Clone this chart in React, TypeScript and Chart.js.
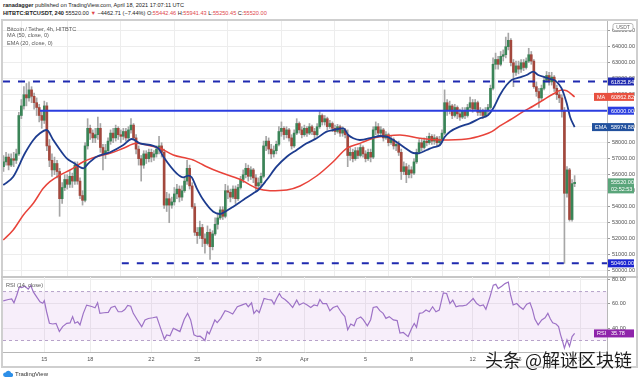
import React, { useEffect, useRef } from "react";
import { Chart, registerables } from "chart.js";

Chart.register(...registerables);

// ---------------- data (4h bars, index 0 = 15 Mar 2021 00:00 UTC) ----------------
const firstBarIndex = -16;
const firstOpen = 56500;

const closes = [
  56800, 57100, 56600, 57000,
  56900, 57300, 59700, 60300, 61000, 60800,
  61300, 60900, 60500, 60200, 59700, 59400,
  60300, 57800, 56900, 56300, 56700, 56200,
  54500, 55200, 55700, 55400, 55900, 55600,
  56600, 55600, 54700, 54400, 57800, 58900,
  58600, 58300, 58500, 58900, 57700, 57300,
  57500, 58100, 58600, 58300, 58900, 58500,
  58400, 58700, 58300, 58800, 59100, 58300,
  57600, 57000, 56600, 57300, 57000, 57400,
  57100, 57300, 57600, 57800, 57400, 54100,
  54500, 54100, 54300, 54800, 55100, 54600,
  55000, 55600, 56400, 55300, 54000, 52400,
  52200, 52700, 52000, 51700, 52400, 51500,
  52300, 52900, 53300, 53800, 53400, 55000,
  54900, 54600, 55100, 54500, 55200, 55700,
  56000, 56400, 55900, 56300, 55800, 55300,
  55500, 55900, 57800, 58100, 57600, 57300,
  57500, 57900, 58700, 58900, 58500, 58800,
  58300, 57800, 58600, 59200, 58800, 58500,
  58900, 58600, 59000, 58700, 58500, 59000,
  59700, 59300, 59500, 59000, 59200, 58900,
  58700, 59000, 58600, 58800, 58500, 57200,
  57400, 57000, 57500, 57200, 57700, 57300,
  57000, 57400, 57100, 58800, 59000, 58600,
  58800, 58300, 58500, 58000, 58200, 57800,
  57900, 57400, 56200, 56500, 56000, 56300,
  56100, 56800, 57400, 58000, 57700, 58100,
  58000, 58400, 58100, 58300, 58000, 58200,
  58600, 60500, 60000, 60300, 59700, 60200,
  59800, 59600, 60000, 59700, 60200, 60500,
  60100, 60500, 59900, 60000, 59700, 60000,
  60200, 61400, 62900, 63200, 62900, 63400,
  63500, 64000, 64400, 63000, 62400, 62800,
  62600, 63000, 62700, 63100, 63500, 63100,
  61500, 61200, 60800, 61400, 61900, 62200,
  61800, 62100, 61400, 61000, 60800, 59983,
  54840, 56300, 53200, 55442.46, 55520,
];

const highs = [
  57200, 57400, 57300, 57300,
  57400, 57600, 59900, 60700, 61500, 61700,
  61800, 61500, 61100, 60800, 60400, 60000,
  60600, 60500, 58200, 57300, 57100, 56900,
  56400, 55500, 56000, 56000, 56200, 56100,
  56800, 56800, 55800, 55000, 58000, 59500,
  59100, 58800, 58900, 59600, 59200, 57900,
  57900, 58300, 58800, 58900, 59100, 59000,
  58800, 58900, 58900, 59000, 59500, 59200,
  58500, 57800, 57200, 57500, 57500, 57600,
  57600, 57500, 57800, 58400, 58000, 57600,
  54900, 54800, 54600, 55200, 55400, 55300,
  55300, 55800, 56900, 56600, 55500, 54200,
  52700, 53100, 52900, 52300, 52800, 52600,
  52500, 53300, 53600, 54000, 54000, 55400,
  55300, 55100, 55300, 55300, 55400, 55900,
  56300, 56700, 56600, 56500, 56400, 56000,
  55800, 56100, 58100, 58400, 58300, 57900,
  57800, 58100, 59000, 59300, 59000, 59000,
  58900, 58500, 58800, 59500, 59300, 59000,
  59100, 59000, 59200, 59100, 58900, 59200,
  59950, 59800, 59700, 59600, 59400, 59300,
  59100, 59150, 59100, 59000, 58900, 58800,
  57700, 57600, 57700, 57700, 57900, 57800,
  57500, 57600, 57600, 59000, 59300, 59200,
  59000, 58900, 58700, 58600, 58400, 58300,
  58100, 58100, 57600, 56800, 56700, 56600,
  56500, 57000, 57600, 58200, 58200, 58300,
  58400, 58600, 58500, 58500, 58400, 58400,
  58800, 61300, 60700, 60600, 60400, 60400,
  60300, 60100, 60200, 60200, 60400, 60850,
  60700, 60700, 60600, 60200, 60100, 60200,
  60400, 61600, 63300, 63600, 63400, 63700,
  63800, 64600, 64850, 64500, 63200, 63100,
  63100, 63200, 63200, 63300, 63900, 63700,
  63200, 61800, 61400, 61600, 62100, 62450,
  62400, 62400, 62200, 61600, 61200, 61000,
  60200, 56500, 56400, 55700, 55941.43,
];

const lows = [
  56200, 56600, 56300, 56500,
  56500, 56700, 57200, 59500, 60100, 60300,
  60600, 60500, 60100, 59700, 59300, 58900,
  59200, 57500, 56500, 55900, 56000, 55800,
  53400, 54200, 55000, 55100, 55200, 55200,
  55400, 55400, 54500, 54100, 54300, 57600,
  58200, 58000, 58000, 58200, 57400, 56300,
  57000, 57300, 57900, 58000, 58100, 58200,
  58000, 58200, 58100, 58200, 58600, 58200,
  57300, 56600, 55600, 56400, 56700, 56800,
  56800, 56900, 57100, 57300, 57100, 53900,
  53700, 53000, 53900, 54100, 54500, 54300,
  54400, 54900, 55400, 55100, 53900, 52200,
  51700, 52000, 51500, 51100, 51600, 50700,
  51300, 52200, 52600, 53200, 53200, 53300,
  54500, 54300, 54500, 54200, 54400, 55100,
  55500, 55800, 55600, 55700, 55500, 55000,
  55100, 55300, 55800, 57500, 57300, 57000,
  57100, 57300, 57800, 58400, 58200, 58300,
  58100, 57600, 57700, 58500, 58600, 58300,
  58400, 58400, 58500, 58500, 58200, 58400,
  58900, 59100, 59100, 58800, 58900, 58700,
  58500, 58600, 58400, 58400, 58300, 56500,
  56900, 56800, 56900, 57000, 57100, 57100,
  56800, 56900, 56800, 57000, 58500, 58400,
  58400, 58100, 58200, 57800, 57900, 57600,
  57500, 57200, 55700, 56000, 55500, 55800,
  55800, 56000, 56700, 57300, 57500, 57600,
  57800, 57900, 57900, 57900, 57800, 57800,
  58000, 58500, 59700, 59800, 59500, 59600,
  59500, 59400, 59500, 59500, 59600, 60000,
  59900, 60000, 59700, 59700, 59500, 59600,
  59800, 60100, 61300, 62600, 62600, 62800,
  63100, 63300, 63800, 62800, 61500, 62200,
  62300, 62400, 62500, 62600, 63000, 62900,
  61400, 60900, 60200, 60700, 61300, 61800,
  61600, 61600, 61200, 60700, 60500, 59600,
  50460, 54600, 53100, 53100, 55250.45,
];

// MA(50): [bar index, price]
const maPoints: [number, number][] = [
  [-16.1, 51919], [-12.2, 52544], [-8.2, 53481], [-4.3, 54212], [-0.4, 55150], [2.2, 55563],
  [6.2, 55981], [10.1, 56294], [15.3, 56812], [20.5, 57125], [25.8, 57337], [31, 57650],
  [36.2, 57960], [40.2, 57856], [45.4, 57650], [50.6, 57231], [55.8, 57025], [58.4, 56919],
  [61.1, 56712], [63.7, 56500], [68.9, 56150], [76.7, 55712], [83.3, 55150], [88.5, 55000],
  [95.1, 55044], [100.3, 55294], [106.8, 55919], [113.3, 56812], [118.6, 57650], [123.8, 57960],
  [129, 58275], [134.3, 58419], [139.5, 58481], [147.3, 58275], [155.2, 58169], [165.6, 58231],
  [172.2, 58481], [175.5, 58690], [178.7, 59044], [182.6, 59419], [187.8, 59937], [191.8, 60294],
  [195.7, 60669], [199.6, 61044], [202.9, 61294], [204.9, 61250], [208, 60862.82],
];

// EMA(20): [bar index, price]
const emaPoints: [number, number][] = [
  [-16.1, 55356], [-12.2, 55875], [-7.6, 57337], [-4.3, 58169], [-1.7, 58587], [0.9, 58794],
  [3.5, 58169], [6.2, 57544], [8.8, 57025], [11.4, 56750], [15.3, 56400], [17.3, 56712],
  [20.5, 57125], [25.8, 57400], [31, 57856], [34.3, 58231], [37.5, 57960], [44.7, 57650],
  [46.7, 57125], [51.9, 56087], [54.5, 55837], [56.5, 55940], [57.8, 55837], [59.8, 55150],
  [62.4, 54419], [66.3, 53688], [68.9, 53544], [70.9, 53688], [74.1, 54000], [78, 54419],
  [82, 54838], [83.9, 55044], [87.2, 55669], [91.1, 56500], [95.1, 57125], [99, 57544],
  [102.9, 57960], [106.8, 58275], [110.7, 58690], [113.3, 58794], [117.3, 58900], [119.2, 58481],
  [121.2, 58275], [123.8, 58169], [129, 58337], [131.6, 58419], [134.3, 58375], [136.9, 58169],
  [139.5, 57900], [142.1, 57600], [144.7, 57356], [146.7, 57337], [150, 57544], [152.5, 57712],
  [155.2, 57856], [157.1, 58375], [159.1, 58690], [163, 59000], [166.9, 59212], [170.9, 59525],
  [174.1, 59731], [176.1, 60150], [178.7, 60981], [181.3, 61606], [183.3, 61919], [186.5, 62087],
  [189.2, 62231], [191.8, 62437], [193.7, 62231], [196.4, 62087], [199, 61962], [200.9, 61812],
  [202.9, 61400], [204.9, 60462], [206.2, 59625], [208, 58974.88],
];

// RSI(14): [bar index, value]
const rsiPoints: [number, number][] = [
  [-16.1, 62.4], [-14.1, 63.5], [-12.8, 64], [-11.9, 60.8], [-10.8, 67], [-9.8, 73.7], [-8.9, 73.3],
  [-7.6, 74.3], [-6.3, 72], [-5.3, 75], [-4.3, 69.7], [-3, 65.6], [-1.7, 61.6], [-0.6, 60.4],
  [0, 62.5], [0.9, 53.5], [2, 44.1], [3.3, 43.5], [4.6, 44], [5.9, 37.3], [7.2, 41.4], [8.8, 44],
  [10.1, 44.4], [11.1, 49.5], [12, 44.1], [13.1, 45.3], [14, 42.8], [15.3, 52.2], [16.6, 58.9],
  [18.6, 57.8], [19.9, 56.8], [20.9, 60.9], [21.8, 52.2], [23.4, 52.7], [25.1, 53], [26.2, 57],
  [27.7, 58], [29, 53.5], [30.4, 53.5], [31.6, 55.3], [32.7, 58.6], [33.9, 58], [34.9, 52.2],
  [36.5, 46.8], [38.2, 41.3], [39.5, 46.8], [40.8, 48], [42.5, 48.6], [44.1, 49.3], [45.4, 41.3],
  [47.1, 31.1], [48, 34.6], [49.3, 33.8], [50.6, 40], [51.9, 38.7], [53.2, 37.3], [54.9, 47.3],
  [56.2, 52.2], [57.4, 46.8], [58.7, 34.6], [60, 33.3], [61.1, 33.5], [62.1, 31.8], [63, 29.9],
  [63.9, 37.3], [64.7, 35.4], [65.6, 40], [66.9, 46.8], [67.8, 44.6], [69.2, 48.1], [70.9, 54.4],
  [72.2, 53.5], [73.9, 51.6], [75.7, 57.6], [77.4, 58.9], [79.1, 60.2], [80, 57.6], [81.3, 60.8],
  [82.2, 52.2], [83.3, 54.9], [84.3, 52.7], [86.2, 64.3], [87.8, 63.5], [89.2, 63], [90.1, 59.7],
  [91.1, 64.3], [92.2, 68.4], [93.1, 65.2], [94.4, 63.5], [95.7, 61.1], [97.4, 57], [99, 63],
  [100, 59], [101.6, 60.8], [103.1, 59], [104.5, 57], [105.8, 59], [107.1, 58.3], [108.1, 63.5],
  [109.2, 60.2], [110.7, 60.2], [112, 54.4], [113.3, 57], [114.9, 58.3], [116.6, 52.7], [117.9, 49.5],
  [119, 38.7], [120.2, 43.5], [121.5, 42], [122.5, 47.5], [124.1, 49.2], [125.1, 47], [126.7, 42],
  [128, 47], [129, 57], [130.4, 57.6], [131.6, 54.4], [132.9, 52.2], [134, 48.1], [135.3, 49.5],
  [136.9, 46.8], [138.4, 46.3], [139.5, 36], [140.8, 36.6], [142.7, 33.2], [144.1, 40], [145.1, 44],
  [146, 40.8], [147.1, 52.2], [148.4, 52.7], [149.7, 54.9], [151, 53.5], [152.3, 57.6], [153.6, 53.5],
  [154.9, 54.9], [156.5, 68.9], [157.8, 68.4], [159.1, 60.2], [160.2, 63], [161.5, 57.6], [162.7, 58.3],
  [164.1, 58.3], [165.6, 59], [166.9, 61.6], [168.2, 64.3], [169.6, 60.2], [170.9, 58.3], [172.2, 59],
  [173.2, 55.5], [174.8, 65.7], [176.1, 75.2], [177.1, 75.9], [178, 72.4], [179.4, 74.3], [180.7, 76.5],
  [182, 77.8], [182.9, 67], [183.9, 59], [185.3, 60.2], [186.5, 57.6], [187.8, 55.5], [189.2, 59.7],
  [190.5, 60.8], [191.5, 55], [192.4, 47.5], [193.7, 42.8], [195.1, 46.8], [196.4, 48.5], [197.5, 52.2],
  [198.5, 47.5], [199.4, 44.5], [200.7, 43.5], [201.7, 41.4], [202.5, 34.6], [203.3, 29.2], [204, 23.8],
  [205, 30.5], [206, 25.2], [207, 33.2], [208, 35.78],
];

// horizontal levels drawn on the chart
const levelValues = [61825.84, 60000, 50460];
const levelStartIdx = [-16.2, -1.7, 30.4];
const levelDashed = [true, false, true];

// axes
const dateTickIdx = [0, 18, 42, 60, 84, 102, 126, 144, 168, 186, 210.4];
const dateTickLabels = ["15", "18", "22", "25", "29", "Apr", "5", "8", "12", "15", "18"];
const priceTicks = [50000, 51000, 52000, 53000, 54000, 55000, 56000, 57000, 58000, 59000, 60000, 61000, 62000, 63000, 64000, 65000];
const rsiTicks = [40, 60, 80];
const rsiBand = [70, 30];
const countdown = "02:52:53";

// ---------------- styling ----------------
const X_MIN = -16.2;
const X_MAX = 220.7;
const PRICE_MIN = 49669;
const PRICE_MAX = 65606;
const RSI_MIN = 20.6;
const RSI_MAX = 81.9;
const FONT = '"Liberation Sans", Arial, sans-serif';
const UP = "#3a8457";
const DOWN = "#a3483d";
const WICK = "#a6a6a6";
const MA_COLOR = "#e8433a";
const EMA_COLOR = "#1d3c8f";
const DASH_COLOR = "#1f2ab0";
const SOLID_COLOR = "#2b3ee0";
const GRID = "#ededed";
const AXIS_TEXT = "#505050";

const candles = closes.map((c, i) => ({
  k: firstBarIndex + i,
  o: i === 0 ? firstOpen : closes[i - 1],
  h: highs[i],
  l: lows[i],
  c,
}));

function tag(
  ctx: CanvasRenderingContext2D,
  x0: number,
  x1: number,
  textX: number,
  yMid: number,
  lines: string[],
  bg: string,
  prefix?: string
) {
  const lh = 7;
  const top = yMid - 4;
  ctx.fillStyle = bg;
  ctx.fillRect(x0, top, x1 - x0, lines.length * lh + 1);
  ctx.fillStyle = "#ffffff";
  ctx.font = `5.5px ${FONT}`;
  ctx.textBaseline = "middle";
  ctx.textAlign = "left";
  lines.forEach((t, i) => ctx.fillText(t, textX, yMid + 0.5 + i * lh));
  if (prefix) ctx.fillText(prefix, x0 + 3, yMid + 0.5);
}

const mainTags = {
  id: "mainTags",
  afterDraw(chart: any) {
    const ctx = chart.ctx as CanvasRenderingContext2D;
    const y = chart.scales.y;
    const r = chart.chartArea.right;
    ctx.save();
    // USDT badge
    ctx.fillStyle = "#fff";
    ctx.strokeStyle = "#aaa";
    ctx.lineWidth = 0.8;
    ctx.beginPath();
    ctx.roundRect(r + 6, 23.5, 20, 7, 2);
    ctx.fill();
    ctx.stroke();
    ctx.fillStyle = "#666";
    ctx.font = `5px ${FONT}`;
    ctx.textAlign = "center";
    ctx.textBaseline = "middle";
    ctx.fillText("USDT", r + 16, 27.2);

    const lastMa = maPoints[maPoints.length - 1][1];
    const lastEma = emaPoints[emaPoints.length - 1][1];
    const lastClose = closes[closes.length - 1];
    tag(ctx, r + 1, r + 27, r + 4, y.getPixelForValue(levelValues[0]), [levelValues[0].toFixed(2)], DASH_COLOR);
    tag(ctx, r - 13, r + 27, r + 4, y.getPixelForValue(lastMa), [lastMa.toFixed(2)], "#e8503f", "MA");
    tag(ctx, r + 1, r + 27, r + 4, y.getPixelForValue(levelValues[1]), [levelValues[1].toFixed(2)], SOLID_COLOR);
    tag(ctx, r - 15, r + 27, r + 4, y.getPixelForValue(lastEma), [lastEma.toFixed(2)], "#22519e", "EMA");
    tag(ctx, r + 1, r + 27, r + 4, y.getPixelForValue(lastClose), [lastClose.toFixed(2), countdown], "#5aa57a");
    tag(ctx, r + 1, r + 27, r + 4, y.getPixelForValue(levelValues[2]), [levelValues[2].toFixed(2)], "#1b24d0");
    ctx.restore();
  },
};

const rsiTags = {
  id: "rsiTags",
  afterDraw(chart: any) {
    const ctx = chart.ctx as CanvasRenderingContext2D;
    const y = chart.scales.y;
    const r = chart.chartArea.right;
    const last = rsiPoints[rsiPoints.length - 1][1];
    ctx.save();
    tag(ctx, r - 13, r + 27, r + 4, y.getPixelForValue(last), [last.toFixed(2)], "#8e24aa", "RSI");
    ctx.restore();
  },
};

const tickFont = { family: FONT, size: 5.5 };

export default function App() {
  const mainRef = useRef<HTMLCanvasElement>(null);
  const rsiRef = useRef<HTMLCanvasElement>(null);

  useEffect(() => {
    const levelSets = levelValues.map((v, i) => ({
      type: "line" as const,
      data: [
        { x: levelStartIdx[i], y: v },
        { x: X_MAX, y: v },
      ],
      borderColor: levelDashed[i] ? DASH_COLOR : SOLID_COLOR,
      borderWidth: 2,
      borderDash: levelDashed[i] ? [7, 8] : [],
      pointRadius: 0,
      order: 0,
    }));

    const main = new Chart(mainRef.current as HTMLCanvasElement, {
      type: "bar",
      data: {
        datasets: [
          {
            type: "bar",
            data: candles.map((d) => ({ x: d.k, y: [d.l, d.h] })) as any,
            backgroundColor: WICK,
            barThickness: 1,
            grouped: false,
            order: 5,
          },
          {
            type: "bar",
            data: candles.map((d) => ({ x: d.k, y: [d.o, d.c] })) as any,
            backgroundColor: candles.map((d) => (d.c >= d.o ? UP : DOWN)),
            barThickness: 2,
            minBarLength: 1,
            grouped: false,
            order: 4,
          },
          {
            type: "line",
            data: maPoints.map(([x, y]) => ({ x, y })),
            borderColor: MA_COLOR,
            borderWidth: 1.5,
            pointRadius: 0,
            cubicInterpolationMode: "monotone",
            order: 2,
          },
          {
            type: "line",
            data: emaPoints.map(([x, y]) => ({ x, y })),
            borderColor: EMA_COLOR,
            borderWidth: 1.8,
            pointRadius: 0,
            cubicInterpolationMode: "monotone",
            order: 1,
          },
          ...levelSets,
        ] as any,
      },
      options: {
        animation: false,
        responsive: false,
        events: [],
        layout: { padding: { left: 3, top: 21, right: 0, bottom: 1 } },
        plugins: { legend: { display: false }, tooltip: { enabled: false } },
        scales: {
          x: {
            type: "linear",
            min: X_MIN,
            max: X_MAX,
            offset: false,
            afterBuildTicks: (s: any) => {
              s.ticks = dateTickIdx.map((v) => ({ value: v }));
            },
            afterFit: (s: any) => {
              s.height = 0;
              s.paddingLeft = 0;
              s.paddingRight = 0;
            },
            ticks: { display: false },
            grid: { color: GRID, drawTicks: false },
            border: { display: false },
          },
          y: {
            position: "right",
            min: PRICE_MIN,
            max: PRICE_MAX,
            afterBuildTicks: (s: any) => {
              s.ticks = priceTicks.map((v) => ({ value: v }));
            },
            afterFit: (s: any) => {
              s.width = 33;
              s.paddingTop = 0;
              s.paddingBottom = 0;
            },
            ticks: {
              callback: (v: any) => Number(v).toFixed(2),
              font: tickFont,
              color: AXIS_TEXT,
              padding: 2,
              autoSkip: false,
            },
            grid: { color: GRID, tickLength: 3, tickColor: "#9a9a9a" },
            border: { display: true, color: "#b8b8b8" },
          },
        },
      } as any,
      plugins: [mainTags],
    });

    const rsi = new Chart(rsiRef.current as HTMLCanvasElement, {
      type: "line",
      data: {
        datasets: [
          {
            data: [
              { x: X_MIN, y: rsiBand[0] },
              { x: X_MAX, y: rsiBand[0] },
            ],
            borderColor: "#b7a2c9",
            borderWidth: 1,
            borderDash: [3, 3],
            pointRadius: 0,
            fill: { value: rsiBand[1] },
            backgroundColor: "rgba(190, 120, 220, 0.13)",
            order: 3,
          },
          {
            data: [
              { x: X_MIN, y: rsiBand[1] },
              { x: X_MAX, y: rsiBand[1] },
            ],
            borderColor: "#b7a2c9",
            borderWidth: 1,
            borderDash: [3, 3],
            pointRadius: 0,
            fill: false,
            order: 2,
          },
          {
            data: rsiPoints.map(([x, y]) => ({ x, y })),
            borderColor: "#9d72c6",
            borderWidth: 1.2,
            pointRadius: 0,
            fill: false,
            order: 1,
          },
        ] as any,
      },
      options: {
        animation: false,
        responsive: false,
        events: [],
        layout: { padding: { left: 3, top: 3, right: 0, bottom: 0 } },
        plugins: { legend: { display: false }, tooltip: { enabled: false } },
        scales: {
          x: {
            type: "linear",
            min: X_MIN,
            max: X_MAX,
            offset: false,
            afterBuildTicks: (s: any) => {
              s.ticks = dateTickIdx.map((v) => ({ value: v }));
            },
            afterFit: (s: any) => {
              s.height = 15;
              s.paddingLeft = 0;
              s.paddingRight = 0;
            },
            ticks: {
              callback: (_v: any, i: number) => dateTickLabels[i],
              font: tickFont,
              color: AXIS_TEXT,
              padding: 4,
              autoSkip: false,
              maxRotation: 0,
            },
            grid: { color: GRID, drawTicks: false },
            border: { display: true, color: "#b8b8b8" },
          },
          y: {
            position: "right",
            min: RSI_MIN,
            max: RSI_MAX,
            afterBuildTicks: (s: any) => {
              s.ticks = rsiTicks.map((v) => ({ value: v }));
            },
            afterFit: (s: any) => {
              s.width = 33;
              s.paddingTop = 0;
              s.paddingBottom = 0;
            },
            ticks: {
              callback: (v: any) => Number(v).toFixed(2),
              font: tickFont,
              color: AXIS_TEXT,
              padding: 2,
              autoSkip: false,
            },
            grid: { color: GRID, tickLength: 3, tickColor: "#9a9a9a" },
            border: { display: true, color: "#b8b8b8" },
          },
        },
      } as any,
      plugins: [rsiTags],
    });

    return () => {
      main.destroy();
      rsi.destroy();
    };
  }, []);

  const small: React.CSSProperties = { position: "absolute", whiteSpace: "nowrap", fontSize: 5.6, lineHeight: "7px" };
  const red = "#e0474c";

  return (
    <div
      style={{
        position: "fixed",
        left: 0,
        top: 0,
        width: 640,
        height: 383,
        background: "#ffffff",
        overflow: "hidden",
        fontFamily: FONT,
        color: "#222",
      }}
    >
      <div style={{ ...small, left: 3, top: 2 }}>
        <b>ranadagger</b> published on TradingView.com, April 18, 2021 17:07:11 UTC
      </div>
      <div style={{ ...small, left: 3, top: 10 }}>
        <b>HITBTC:BTCUSDT, 240</b> 55520.00 <span style={{ color: red }}>▼</span> −4462.71 (−7.44%) O:
        <span style={{ color: red }}>55442.46</span> H:<span style={{ color: red }}>55941.43</span> L:
        <span style={{ color: red }}>55250.45</span> C:<span style={{ color: red }}>55520.00</span>
      </div>

      <div
        style={{
          position: "absolute",
          left: 1,
          top: 19,
          width: 637,
          height: 349,
          border: "2px solid #cfcfcf",
          boxSizing: "border-box",
        }}
      />
      <div style={{ position: "absolute", left: 1, top: 276, width: 637, height: 1.5, background: "#c6c6c6" }} />

      <canvas
        ref={mainRef}
        width={640}
        height={277}
        style={{ position: "absolute", left: 0, top: 0, width: 640, height: 277 }}
      />
      <canvas
        ref={rsiRef}
        width={640}
        height={93}
        style={{ position: "absolute", left: 0, top: 274, width: 640, height: 93 }}
      />

      <div style={{ ...small, left: 7, top: 25.5, color: "#5a5a5a" }}>Bitcoin / Tether, 4h, HITBTC</div>
      <div style={{ ...small, left: 7, top: 32, color: "#5a5a5a" }}>MA (50, close, 0)</div>
      <div style={{ ...small, left: 7, top: 39.5, color: "#5a5a5a" }}>EMA (20, close, 0)</div>
      <div style={{ ...small, left: 6, top: 281.5, color: "#5a5a5a" }}>RSI (14, close)</div>

      <div style={{ position: "absolute", left: 3, top: 370, display: "flex", alignItems: "center", gap: 2 }}>
        <svg width="10" height="7" viewBox="0 0 10 7">
          <path d="M2.2 7 H8 A2 2 0 0 0 8.2 3 A3 3 0 0 0 2.6 2.4 A2.3 2.3 0 0 0 2.2 7 Z" fill="#2d8fe8" />
        </svg>
        <span style={{ fontSize: 6, color: "#333" }}>TradingView</span>
      </div>

      <div
        style={{
          position: "absolute",
          left: 485,
          top: 348,
          fontFamily: '"Noto Sans CJK SC", sans-serif',
          fontSize: 18,
          lineHeight: "22px",
          color: "#1c1c1c",
          whiteSpace: "nowrap",
          textShadow: "0 0 2px #fff, 0 0 2px #fff, 0 0 1px #fff",
        }}
      >
        头条 @解谜区块链
      </div>
    </div>
  );
}
